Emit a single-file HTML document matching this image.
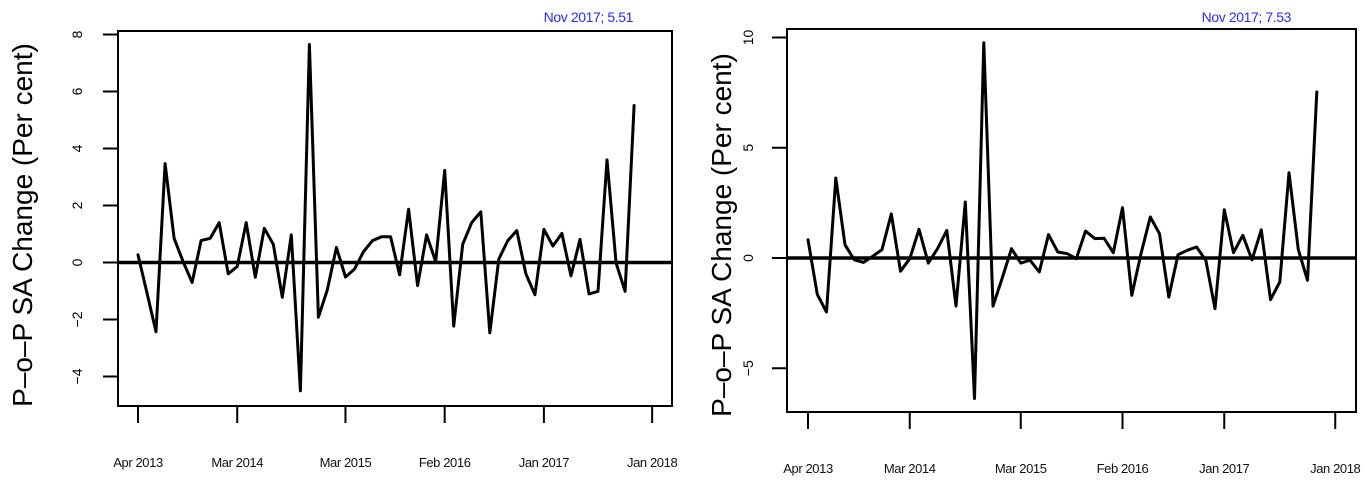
<!DOCTYPE html>
<html><head><meta charset="utf-8">
<style>
html,body{margin:0;padding:0;background:#fff;}
svg{display:block;font-family:"Liberation Sans",Arial,sans-serif;}
</style></head>
<body>
<svg id="chart" width="1366" height="483" viewBox="0 0 1366 483" xmlns="http://www.w3.org/2000/svg"></svg>
<script>
const xTickLabels = ["Apr 2013","Mar 2014","Mar 2015","Feb 2016","Jan 2017","Jan 2018"];
const xTickMonths = [0,11,23,34,45,57];
const leftValues = [0.27,-1.07,-2.43,3.47,0.85,0.03,-0.7,0.77,0.85,1.4,-0.4,-0.14,1.4,-0.52,1.2,0.64,-1.22,0.97,-4.5,7.65,-1.92,-0.95,0.53,-0.51,-0.23,0.38,0.77,0.9,0.9,-0.43,1.87,-0.81,0.97,0.03,3.23,-2.23,0.64,1.4,1.78,-2.47,0.12,0.77,1.12,-0.4,-1.13,1.16,0.58,1.02,-0.47,0.81,-1.1,-1.01,3.6,-0.02,-1.01,5.51];
const rightValues = [0.83,-1.65,-2.45,3.63,0.6,-0.08,-0.2,0.08,0.38,2.0,-0.6,-0.03,1.3,-0.23,0.42,1.25,-2.18,2.54,-6.37,9.76,-2.18,-0.9,0.42,-0.23,-0.1,-0.63,1.06,0.27,0.2,-0.03,1.22,0.88,0.9,0.24,2.28,-1.69,0.2,1.86,1.1,-1.77,0.15,0.35,0.5,-0.1,-2.3,2.19,0.24,1.03,-0.08,1.28,-1.89,-1.09,3.87,0.38,-1.01,7.53];
const leftYTicks = [-4,-2,0,2,4,6,8];
const rightYTicks = [-5,0,5,10];
const leftNote = "Nov 2017; 5.51";
const rightNote = "Nov 2017; 7.53";

const NS="http://www.w3.org/2000/svg";
const svg=document.getElementById('chart');
function mk(tag,attrs,parent){const e=document.createElementNS(NS,tag);for(const k in attrs)e.setAttribute(k,attrs[k]);(parent||svg).appendChild(e);return e;}

function panel(cfg,values,yTicks,note,prefix){
  const g=mk('g',{});
  
  
  const x=m=>cfg.x0+m*cfg.dx;
  const y=v=>cfg.y0-v*cfg.dy;
  const box=mk('rect',{x:cfg.L,y:cfg.T,width:cfg.R-cfg.L,height:cfg.B-cfg.T,fill:'none',stroke:'#000','stroke-width':2},g);
  
  
  yTicks.forEach(v=>{
    const t=mk('line',{x1:cfg.L-15,x2:cfg.L,y1:y(v),y2:y(v),stroke:'#000','stroke-width':2},g);
    
    
    const lab=mk('text',{x:0,y:0,transform:`translate(${cfg.labX},${y(v)}) rotate(-90)`,'text-anchor':'middle','font-size':14,fill:'#000'},g);
    lab.textContent=v<0?'\u2212'+Math.abs(v):String(v);
    
    
  });
  xTickMonths.forEach((m,i)=>{
    const t=mk('line',{x1:x(m),x2:x(m),y1:cfg.B,y2:cfg.B+17,stroke:'#000','stroke-width':2},g);
    
    
    const lab=mk('text',{x:x(m),y:cfg.xLabY,'text-anchor':'middle','font-size':13,fill:'#111','letter-spacing':'-0.4'},g);
    lab.textContent=xTickLabels[i];
    
    
  });
  const z=mk('line',{x1:cfg.L,x2:cfg.R,y1:y(0),y2:y(0),stroke:'#000','stroke-width':3.5},g);
  
  
  const pts=values.map((v,i)=>x(i).toFixed(1)+','+y(v).toFixed(1)).join(' ');
  const pl=mk('polyline',{points:pts,fill:'none',stroke:'#000','stroke-width':3,'stroke-linejoin':'round','stroke-linecap':'round'},g);
  
  
  const yt=mk('text',{x:0,y:0,transform:`translate(${cfg.titleX},${cfg.titleY}) rotate(-90)`,'text-anchor':'middle','font-size':28,fill:'#000'},g);
  yt.textContent='P\u2013o\u2013P SA Change (Per cent)';
  
  
  const n=mk('text',{x:cfg.noteX,y:cfg.noteY,'text-anchor':'end','font-size':14,fill:'#2b2bff','letter-spacing':'-0.4'},g);
  n.textContent=note;
  
  
}

panel({L:118,R:672,T:31,B:406,x0:138,dx:9.02,y0:262.5,dy:28.5,labX:82,titleX:32,titleY:225,xLabY:467,noteX:633,noteY:22},leftValues,leftYTicks,leftNote,'left');
panel({L:787,R:1356,T:29,B:412,x0:808,dx:9.25,y0:258,dy:22.05,labX:753,titleX:731,titleY:235,xLabY:473,noteX:1291,noteY:22},rightValues,rightYTicks,rightNote,'right');
</script>
</body></html>
